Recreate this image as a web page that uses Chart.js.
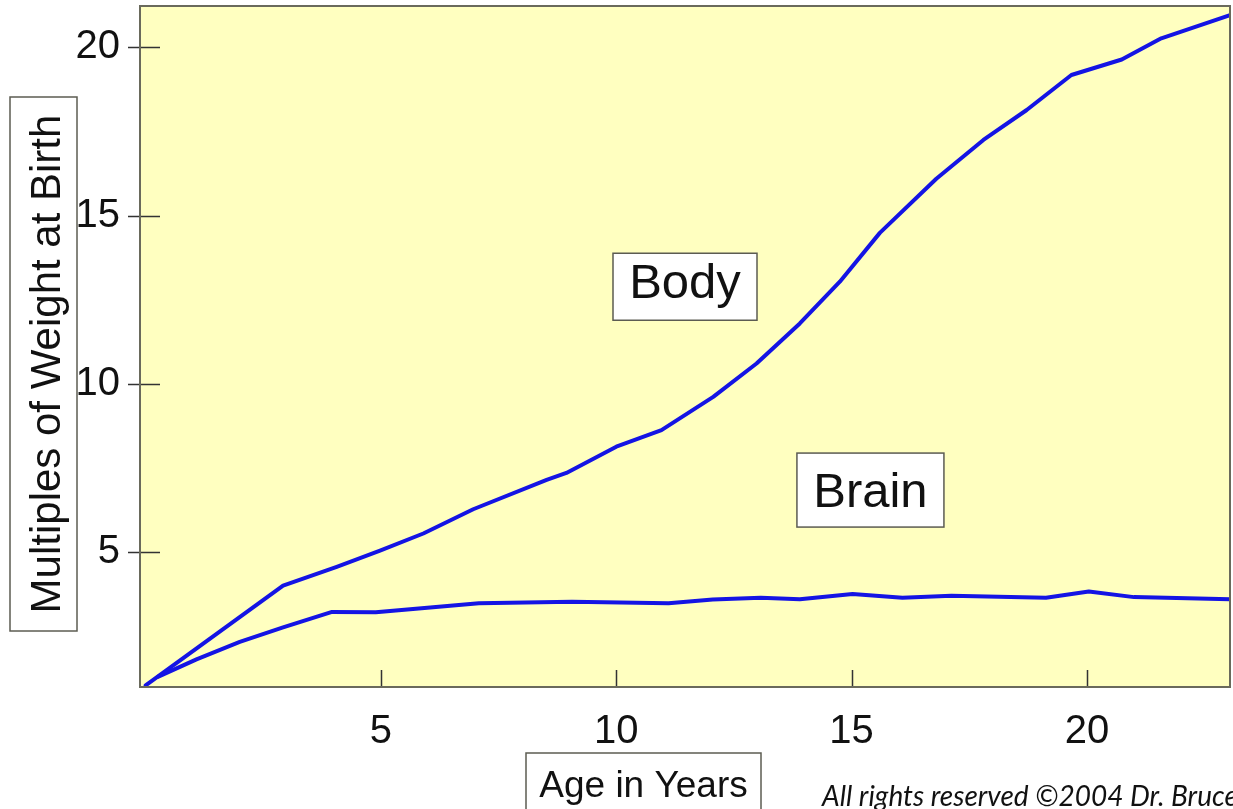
<!DOCTYPE html>
<html>
<head>
<meta charset="utf-8">
<title>Body and brain growth</title>
<script src="https://cdn.jsdelivr.net/npm/chart.js@4.4.1/dist/chart.umd.min.js"></script>
<style>
  html, body { margin: 0; padding: 0; background: #fff; }
  #wrap { width: 1233px; height: 809px; }
</style>
</head>
<body>
<div id="wrap"><canvas id="growthChart" width="1233" height="809"></canvas></div>
<script>
// Age in years vs. multiples of weight at birth
const bodyAge     = [0, 2.92, 4.06, 4.98, 5.9, 6.96, 8.52, 8.94, 10.0, 10.96, 12.06, 12.98, 13.9, 14.75, 15.6, 16.8, 17.8, 18.72, 19.67, 20.74, 21.58, 23.04];
const bodyWeight  = [1.05, 4.01, 4.57, 5.05, 5.56, 6.28, 7.15, 7.36, 8.14, 8.63, 9.62, 10.61, 11.8, 13.04, 14.49, 16.1, 17.25, 18.14, 19.18, 19.64, 20.27, 20.96];
const brainAge    = [0.27, 1.08, 2.0, 2.92, 3.96, 4.89, 7.08, 9.06, 11.11, 12.05, 13.07, 13.9, 15.02, 16.08, 17.12, 19.13, 20.04, 21.0, 23.04];
const brainWeight = [1.31, 1.82, 2.34, 2.77, 3.23, 3.22, 3.49, 3.53, 3.49, 3.6, 3.65, 3.61, 3.76, 3.65, 3.71, 3.65, 3.84, 3.67, 3.61];
const xTicks = [5, 10, 15, 20];
const yTicks = [5, 10, 15, 20];

const LINE_BLUE = '#1414e4';
const PLOT_BG = '#ffffc0';
const FRAME = '#6a6a5c';
const SANS = "'Liberation Sans', Arial, sans-serif";

const toPoints = (xs, ys) => xs.map((x, i) => ({ x: x, y: ys[i] }));

// boxed labels inside the plot, anchored at data coordinates
const curveLabels = [
    { text: 'Body',  x: 11.46, y: 12.89, w: 144, h: 67, base: 11.5 },
    { text: 'Brain', x: 15.4,  y: 6.85,  w: 147, h: 74, base: 17 }
];

function boxedRect(ctx, x, y, w, h) {
    ctx.fillStyle = '#fff';
    ctx.fillRect(x, y, w, h);
    ctx.strokeStyle = '#5c5c52';
    ctx.lineWidth = 1.5;
    ctx.strokeRect(x, y, w, h);
}

const decorPlugin = {
    id: 'decor',
    beforeDraw(chart) {
        const { ctx, chartArea: a } = chart;
        ctx.save();
        ctx.fillStyle = '#fff';
        ctx.fillRect(0, 0, chart.width, chart.height);
        ctx.fillStyle = PLOT_BG;
        ctx.fillRect(a.left, a.top, a.right - a.left, a.bottom - a.top);

        // y axis title box
        boxedRect(ctx, 10, 97, 67, 534);
        ctx.fillStyle = '#111';
        ctx.font = '42px ' + SANS;
        ctx.textAlign = 'center';
        ctx.textBaseline = 'alphabetic';
        ctx.save();
        ctx.translate(60, 364);
        ctx.rotate(-Math.PI / 2);
        ctx.fillText('Multiples of Weight at Birth', 0, 0);
        ctx.restore();

        // x axis title box (runs off the bottom edge)
        boxedRect(ctx, 526, 753, 235, 70);
        ctx.fillStyle = '#111';
        ctx.font = '37px ' + SANS;
        ctx.fillText('Age in Years', 643.5, 797);
        ctx.restore();
    },
    afterDatasetsDraw(chart) {
        const { ctx, chartArea: a, scales } = chart;
        ctx.save();
        ctx.strokeStyle = '#333';
        ctx.lineWidth = 1.5;
        ctx.beginPath();
        yTicks.forEach(v => {
            const py = Math.round(scales.y.getPixelForValue(v)) + 0.5;
            ctx.moveTo(a.left - 12, py);
            ctx.lineTo(a.left + 20, py);
        });
        xTicks.forEach(v => {
            const px = Math.round(scales.x.getPixelForValue(v)) + 0.5;
            ctx.moveTo(px, a.bottom);
            ctx.lineTo(px, a.bottom - 17);
        });
        ctx.stroke();

        ctx.strokeStyle = FRAME;
        ctx.lineWidth = 2;
        ctx.strokeRect(a.left, a.top, a.right - a.left, a.bottom - a.top);

        curveLabels.forEach(lbl => {
            const cx = scales.x.getPixelForValue(lbl.x);
            const cy = scales.y.getPixelForValue(lbl.y);
            boxedRect(ctx, cx - lbl.w / 2, cy - lbl.h / 2, lbl.w, lbl.h);
            ctx.fillStyle = '#111';
            ctx.font = '49px ' + SANS;
            ctx.textAlign = 'center';
            ctx.textBaseline = 'alphabetic';
            ctx.fillText(lbl.text, cx, cy + lbl.base);
        });
        ctx.restore();
    },
    afterDraw(chart) {
        const { ctx } = chart;
        ctx.save();
        ctx.fillStyle = '#111';
        ctx.font = "italic 28px Lato, 'Open Sans', sans-serif";
        ctx.textAlign = 'left';
        ctx.textBaseline = 'alphabetic';
        ctx.fillText('All rights reserved \u00A92004 Dr. Bruce', 822, 806);
        ctx.restore();
    }
};

const tickFont = { family: SANS, size: 40 };

new Chart(document.getElementById('growthChart'), {
    type: 'scatter',
    data: {
        datasets: [
            { label: 'Body', data: toPoints(bodyAge, bodyWeight) },
            { label: 'Brain', data: toPoints(brainAge, brainWeight) }
        ]
    },
    options: {
        responsive: false,
        animation: false,
        showLine: true,
        layout: { padding: { top: 6, right: 3, bottom: 0, left: 0 } },
        elements: {
            point: { radius: 0, hoverRadius: 0 },
            line: { borderColor: LINE_BLUE, borderWidth: 4, tension: 0, fill: false, borderJoinStyle: 'round', borderCapStyle: 'round' }
        },
        plugins: { legend: { display: false }, tooltip: { enabled: false } },
        scales: {
            x: {
                type: 'linear', min: -0.12, max: 23.04,
                afterBuildTicks: s => { s.ticks = xTicks.map(v => ({ value: v })); },
                grid: { display: false, drawTicks: false },
                border: { display: false },
                ticks: { font: tickFont, color: '#111', padding: 21, maxRotation: 0, autoSkip: false },
                afterFit: s => { s.height = 122; s.paddingLeft = 0; s.paddingRight = 0; }
            },
            y: {
                type: 'linear', min: 1, max: 21.23,
                afterBuildTicks: s => { s.ticks = yTicks.map(v => ({ value: v })); },
                grid: { display: false, drawTicks: false },
                border: { display: false },
                ticks: { font: tickFont, color: '#111', padding: 20 },
                afterFit: s => { s.width = 140; s.paddingTop = 0; s.paddingBottom = 0; }
            }
        }
    },
    plugins: [decorPlugin]
});
</script>
</body>
</html>
